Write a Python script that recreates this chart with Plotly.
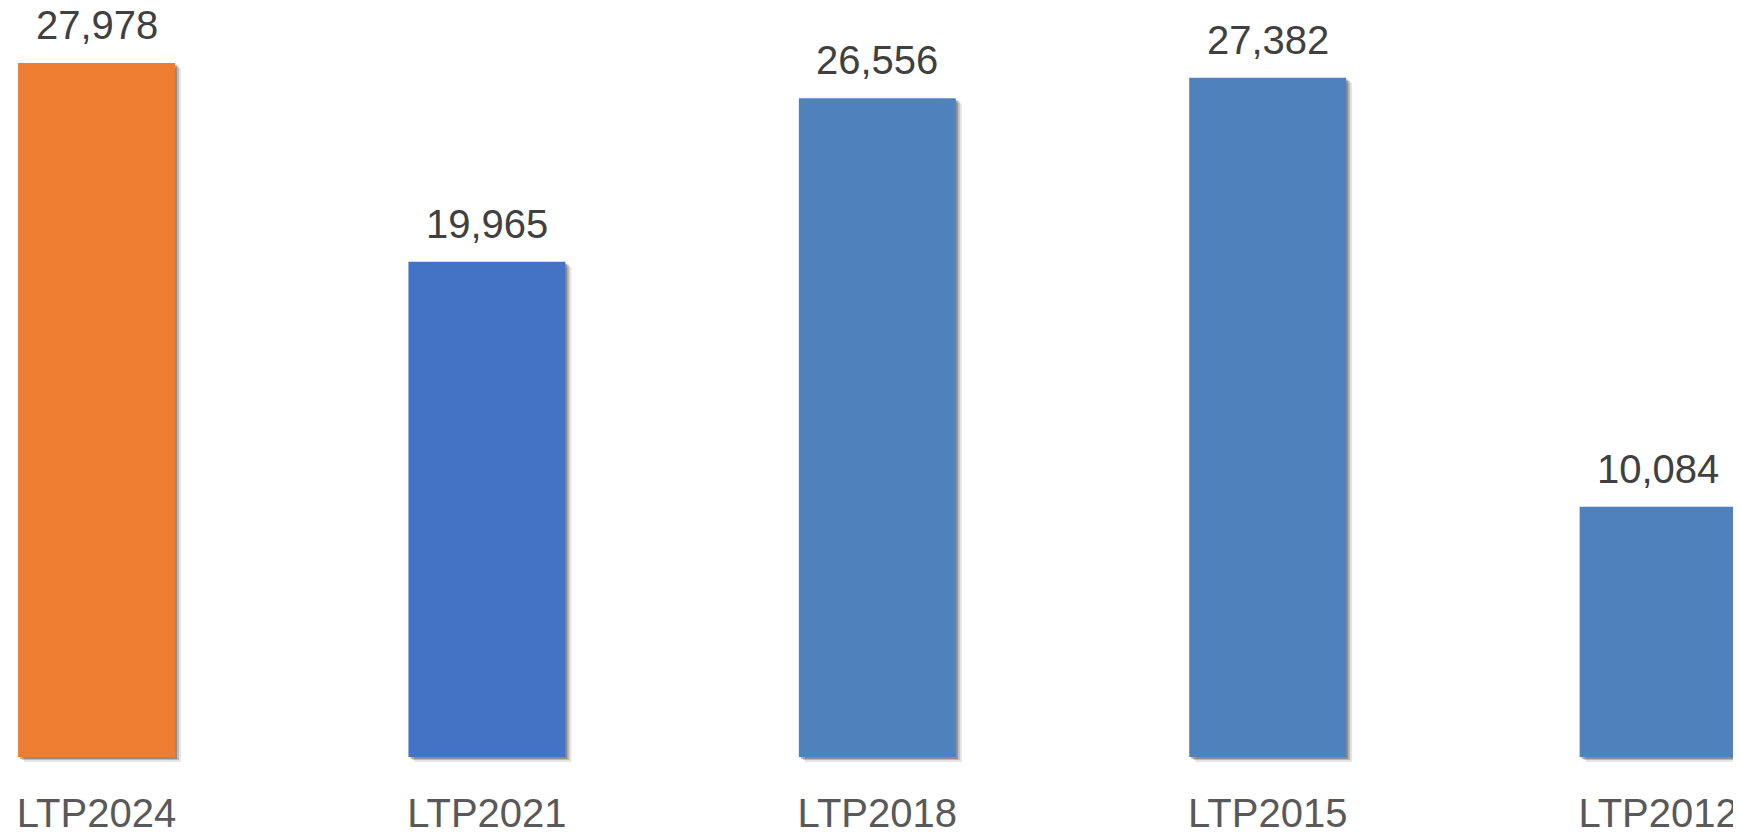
import plotly.graph_objects as go

categories = ["LTP2024", "LTP2021", "LTP2018", "LTP2015", "LTP2012"]
values = [27978, 19965, 26556, 27382, 10084]
bar_colors = ["#ED7D31", "#4472C4", "#4F81BD", "#4F81BD", "#4F81BD"]
labels = [f"{v:,}" for v in values]

# pixel geometry of the reference (page body has an 8px margin)
fig_w, fig_h = 1733, 828
px_per_unit = (757 - 63) / 27978
plot_h = fig_h - 60
ymax = (757 - 8) / px_per_unit
ymin = ymax - plot_h / px_per_unit
bar_w = 0.402
step = 390.4
x0 = (96.5 - 8) / step

fig = go.Figure()
# soft drop shadow behind the bars
for dx, dy, alpha in [(6, 5, 0.10), (4, 3, 0.18), (2, 2, 0.25)]:
    fig.add_trace(go.Bar(
        x=categories, y=values,
        base=-dy / px_per_unit,
        width=bar_w, offset=-bar_w / 2 + dx / step,
        marker=dict(color=f"rgba(0,0,0,{alpha})", line=dict(width=0)),
        hoverinfo="skip", showlegend=False))

fig.add_trace(go.Bar(
    x=categories, y=values,
    width=bar_w, offset=-bar_w / 2,
    marker=dict(color=bar_colors, line=dict(width=0)),
    showlegend=False))

# value labels above the bars
for cat, v, lab in zip(categories, values, labels):
    fig.add_annotation(x=cat, y=v, text=lab, showarrow=False,
                       yanchor="bottom", yshift=14,
                       font=dict(family="Liberation Sans, Arial", size=40,
                                 color="#404040"))

fig.update_layout(
    width=fig_w, height=fig_h,
    barmode="overlay",
    plot_bgcolor="white", paper_bgcolor="white",
    margin=dict(l=0, r=0, t=0, b=fig_h - plot_h),
    xaxis=dict(range=[-x0, (fig_w / step) - x0], showgrid=False,
               showline=False, zeroline=False, ticks="",
               ticklabelstandoff=10, automargin=False,
               tickfont=dict(family="Liberation Sans, Arial", size=40,
                             color="#595959")),
    yaxis=dict(range=[ymin, ymax], visible=False, showgrid=False,
               zeroline=False, automargin=False),
)

fig.write_html("out.html")
